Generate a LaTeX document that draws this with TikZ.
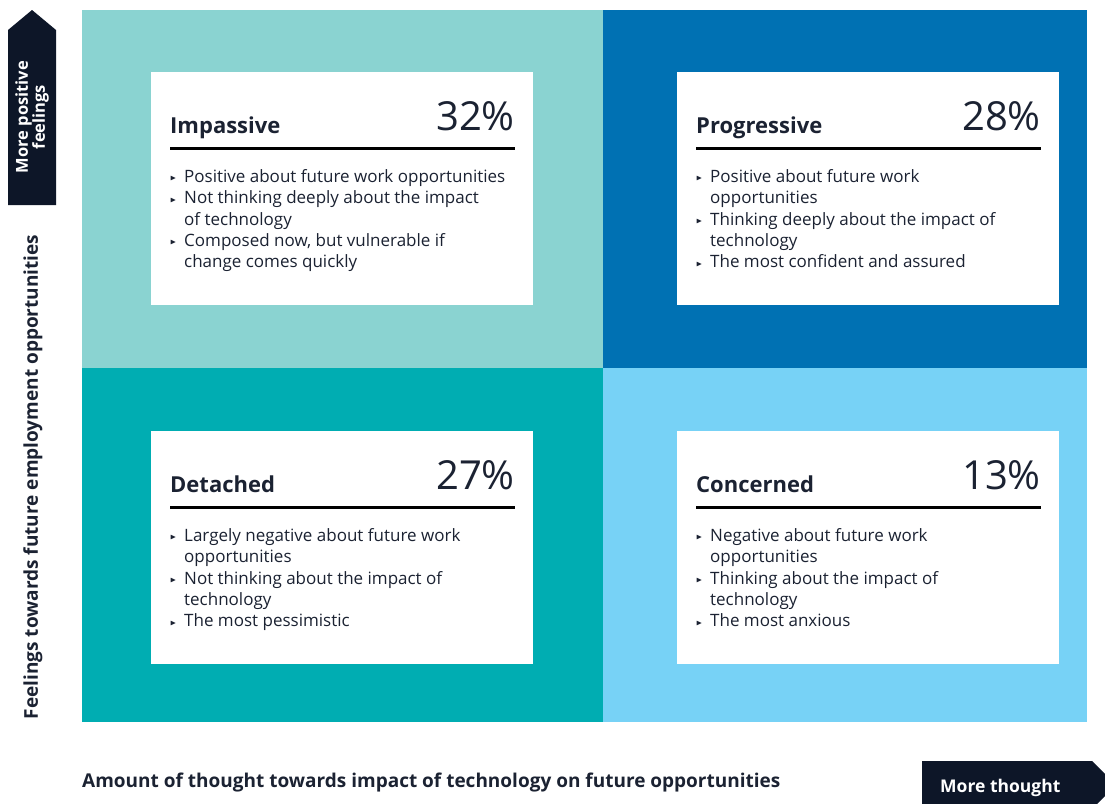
\documentclass[tikz,border=0pt]{standalone}
\usepackage{fontspec}
\setmainfont{Open Sans}
\usepackage{amssymb}
\definecolor{navy}{HTML}{0D1628}
\definecolor{inktext}{HTML}{1B2232}
\definecolor{quadA}{HTML}{8AD3D1}
\definecolor{quadB}{HTML}{0071B3}
\definecolor{quadC}{HTML}{00ADB2}
\definecolor{quadD}{HTML}{77D2F6}
\tikzstyle{quad} = [rectangle, inner sep=0, anchor=north west]
\tikzstyle{card} = [rectangle, fill=white, inner sep=0, anchor=north west, minimum width=382pt, minimum height=233pt]
\tikzstyle{title} = [anchor=base west, inner sep=0, text=inktext, font=\fontsize{22}{26}\selectfont\bfseries]
\tikzstyle{share} = [anchor=base east, inner sep=0, text=inktext, font=\fontsize{40}{44}\selectfont]
\tikzstyle{points} = [anchor=north west, inner sep=0, text=inktext, align=left, font=\fontsize{17}{21.4}\selectfont]
\tikzstyle{rulebar} = [line width=3pt, black]
\tikzstyle{axis} = [inner sep=0, text=inktext, font=\fontsize{19}{22}\selectfont\bfseries]
\newcommand{\bul}{\makebox[14pt][l]{\raisebox{1.5pt}{\fontsize{8}{8}\selectfont$\blacktriangleright$}}}
\newcommand{\ind}{\hspace*{14pt}}

\begin{document}
\begin{tikzpicture}[x = 1pt, y = -1pt]
\useasboundingbox (0,0) rectangle (1105,803);

% ----------------------------------------------------
% quadrants
\node (qa) [quad, fill=quadA, minimum width=521pt, minimum height=358pt] at (82,10) {};
\node (qb) [quad, fill=quadB, minimum width=484pt, minimum height=358pt] at (603,10) {};
\node (qc) [quad, fill=quadC, minimum width=521pt, minimum height=354pt] at (82,368) {};
\node (qd) [quad, fill=quadD, minimum width=484pt, minimum height=354pt] at (603,368) {};

% ----------------------------------------------------
% cards
\node (impassive) [card] at (151,72) {};
\node (progressive) [card] at (677,72) {};
\node (detached) [card] at (151,431) {};
\node (concerned) [card] at (677,431) {};

\node (impassiveT) [title] at (170,133) {Impassive};
\node (impassiveP) [share] at (515,130) {32\%};
\draw[rulebar] (170,148) -- (515,148);
\node (impassiveL) [points] at (170,169) {
  \bul Positive about future work opportunities\\
  \bul Not thinking deeply about the impact\\
  \ind of technology\\
  \bul Composed now, but vulnerable if\\
  \ind change comes quickly
};

\node (progressiveT) [title] at (696,133) {Progressive};
\node (progressiveP) [share] at (1041,130) {28\%};
\draw[rulebar] (696,148) -- (1041,148);
\node (progressiveL) [points] at (696,169) {
  \bul Positive about future work\\
  \ind opportunities\\
  \bul Thinking deeply about the impact of\\
  \ind technology\\
  \bul The most confident and assured
};

\node (detachedT) [title] at (170,492) {Detached};
\node (detachedP) [share] at (515,489) {27\%};
\draw[rulebar] (170,507) -- (515,507);
\node (detachedL) [points] at (170,528) {
  \bul Largely negative about future work\\
  \ind opportunities\\
  \bul Not thinking about the impact of\\
  \ind technology\\
  \bul The most pessimistic
};

\node (concernedT) [title] at (696,492) {Concerned};
\node (concernedP) [share] at (1041,489) {13\%};
\draw[rulebar] (696,507) -- (1041,507);
\node (concernedL) [points] at (696,528) {
  \bul Negative about future work\\
  \ind opportunities\\
  \bul Thinking about the impact of\\
  \ind technology\\
  \bul The most anxious
};

% ----------------------------------------------------
% axes
\fill[navy] (8,205) -- (8,30) -- (32,10) -- (56,30) -- (56,205) -- cycle;
\node (upLabel) [axis, text=white, rotate=90, align=center, font=\fontsize{16.5}{17}\selectfont\bfseries] at (32,117) {More positive\\feelings};
\node (yLabel) [axis, rotate=90] at (33,477) {Feelings towards future employment opportunities};

\node (xLabel) [axis, anchor=base west] at (82,787) {Amount of thought towards impact of technology on future opportunities};
\fill[navy] (922,761) -- (1092,761) -- (1116,785) -- (1092,809) -- (922,809) -- cycle;
\node (rightLabel) [axis, text=white, anchor=base west, font=\fontsize{17.5}{20}\selectfont\bfseries] at (940,792) {More thought};

\end{tikzpicture}
\end{document}
